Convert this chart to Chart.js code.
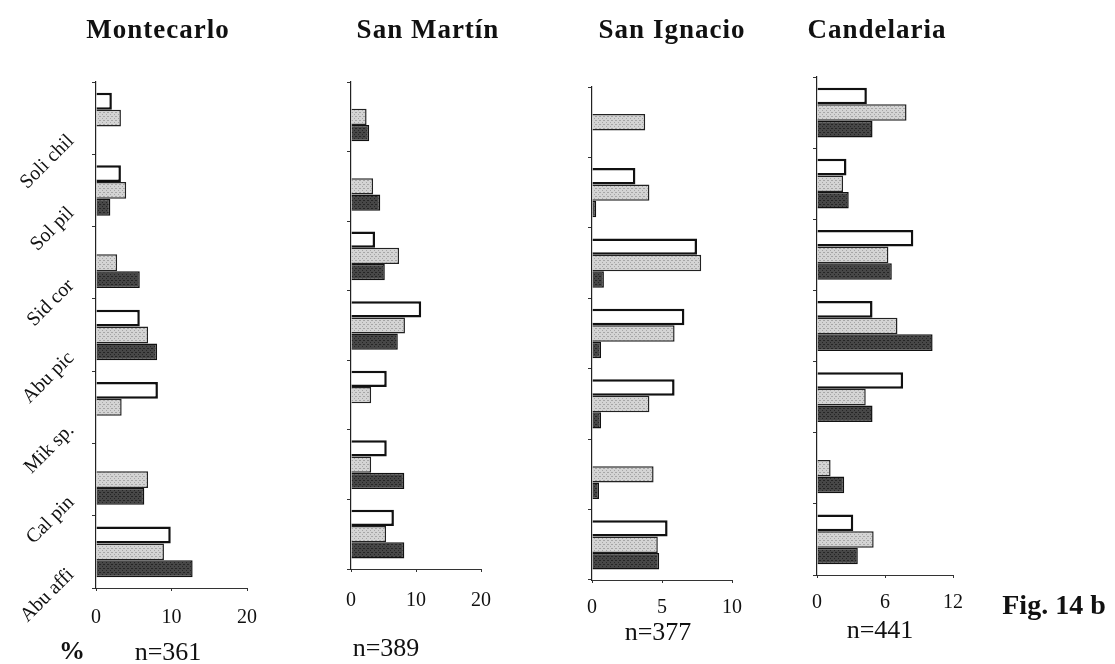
<!DOCTYPE html>
<html>
<head>
<meta charset="utf-8">
<script src="https://cdn.jsdelivr.net/npm/chart.js@4.4.1/dist/chart.umd.min.js"></script>
<style>
  body { margin: 0; background: #fff; }
  #wrap { position: relative; width: 1115px; height: 664px; overflow: hidden; font-family: "Liberation Serif", "DejaVu Serif", serif; color: #111; }
  #wrap canvas { position: absolute; left: 0; top: 0; }
  .t { position: absolute; transform: translate(-50%, -50%); white-space: nowrap; }
  .title { font-weight: bold; font-size: 27px; letter-spacing: 1px; }
  .n { font-size: 26px; }
</style>
</head>
<body>
<div id="wrap">
  <canvas id="c1" width="1115" height="664"></canvas>
  <canvas id="c2" width="1115" height="664"></canvas>
  <canvas id="c3" width="1115" height="664"></canvas>
  <canvas id="c4" width="1115" height="664"></canvas>

  <div class="t title" style="left:158px; top:29px;">Montecarlo</div>
  <div class="t title" style="left:428px; top:29px;">San Martín</div>
  <div class="t title" style="left:672px; top:29px;">San Ignacio</div>
  <div class="t title" style="left:877px; top:29px;">Candelaria</div>

  <div class="t" style="left:72px; top:651px; font-size:26px; font-weight:bold;">%</div>
  <div class="t n" style="left:168px; top:652px;">n=361</div>
  <div class="t n" style="left:386px; top:648px;">n=389</div>
  <div class="t n" style="left:658px; top:632px;">n=377</div>
  <div class="t n" style="left:880px; top:630px;">n=441</div>
  <div class="t" style="left:1054px; top:605px; font-size:28px; font-weight:bold;">Fig. 14 b</div>
</div>

<script>
var categories = ["Soli chil", "Sol pil", "Sid cor", "Abu pic", "Mik sp.", "Cal pin", "Abu affi"];

// Montecarlo
var mcWhite = [2.1, 3.3, null, 5.8, 8.2, null, 9.9];
var mcGray  = [3.3, 4.0, 2.8, 6.9, 3.4, 6.9, 9.0];
var mcDark  = [null, 1.9, 5.8, 8.1, null, 6.4, 12.8];

// San Martin
var smWhite = [null, null, 3.7, 10.8, 5.5, 5.5, 6.6];
var smGray  = [2.4, 3.4, 7.4, 8.3, 3.1, 3.1, 5.4];
var smDark  = [2.8, 4.5, 5.2, 7.2, null, 8.2, 8.2];

// San Ignacio
var siWhite = [null, 3.1, 7.5, 6.6, 5.9, null, 5.4];
var siGray  = [3.8, 4.1, 7.8, 5.9, 4.1, 4.4, 4.7];
var siDark  = [null, 0.3, 0.85, 0.65, 0.65, 0.5, 4.8];

// Candelaria
var caWhite = [4.4, 2.6, 8.5, 4.9, 7.6, null, 3.2];
var caGray  = [7.9, 2.3, 6.3, 7.1, 4.3, 1.2, 5.0];
var caDark  = [4.9, 2.8, 6.6, 10.2, 4.9, 2.4, 3.6];

// axis maxima and steps
var mcMax = 20, mcStep = 10;
var smMax = 20, smStep = 10;
var siMax = 10, siStep = 5;
var caMax = 12, caStep = 6;

var W = 1115, H = 664, AXIS_H = 50;
var serif = "'Liberation Serif', 'DejaVu Serif', serif";

function speckle(base, dot) {
    var c = document.createElement("canvas");
    c.width = 4; c.height = 4;
    var g = c.getContext("2d");
    g.fillStyle = base;
    g.fillRect(0, 0, 4, 4);
    g.fillStyle = dot;
    g.fillRect(0, 0, 1, 1);
    g.fillRect(2, 2, 1, 1);
    g.fillRect(3, 0, 1, 1);
    return g.createPattern(c, "repeat");
}
var grayFill = speckle("#d4d4d4", "#a6a6a6");
var darkFill = speckle("#474747", "#252525");

// rotated category names, only on the first panel
var catLabels = {
    id: "catLabels",
    afterDraw: function (chart) {
        var y = chart.scales.y;
        var ctx = chart.ctx;
        ctx.save();
        ctx.font = "20px " + serif;
        ctx.fillStyle = "#111";
        ctx.textAlign = "right";
        ctx.textBaseline = "middle";
        categories.forEach(function (name, i) {
            ctx.save();
            ctx.translate(71, y.getPixelForValue(i) + 20);
            ctx.rotate(-Math.PI / 4);
            ctx.fillText(name, 0, 0);
            ctx.restore();
        });
        ctx.restore();
    }
};

function makePanel(id, white, gray, dark, box, max, step, tickPad, plugins) {
    var ctx = document.getElementById(id).getContext("2d");
    new Chart(ctx, {
        type: "bar",
        data: {
            labels: categories,
            datasets: [
                { data: white, backgroundColor: "#ffffff", borderColor: "#111", borderWidth: 2.5 },
                { data: gray, backgroundColor: grayFill, borderColor: "#222", borderWidth: 1.5 },
                { data: dark, backgroundColor: darkFill, borderColor: "#111", borderWidth: 1.5 }
            ]
        },
        options: {
            indexAxis: "y",
            responsive: false,
            animation: false,
            events: [],
            datasets: { bar: { categoryPercentage: 0.7, barPercentage: 1.0 } },
            layout: {
                padding: { left: box.left, right: W - box.right, top: box.top, bottom: H - box.bottom - AXIS_H }
            },
            plugins: { legend: { display: false }, tooltip: { enabled: false } },
            scales: {
                x: {
                    min: 0,
                    max: max,
                    afterFit: function (s) { s.height = AXIS_H; },
                    ticks: { stepSize: step, padding: tickPad, color: "#111", font: { family: serif, size: 20 } },
                    grid: { drawOnChartArea: false, tickLength: 3, color: "#333" },
                    border: { color: "#333", width: 1 }
                },
                y: {
                    afterFit: function (s) { s.width = 0; },
                    ticks: { display: false },
                    grid: { drawOnChartArea: false, tickLength: 4, color: "#333", offset: true },
                    border: { color: "#222", width: 1.2 }
                }
            }
        },
        plugins: plugins || []
    });
}

makePanel("c1", mcWhite, mcGray, mcDark, { left: 96, right: 247, top: 82, bottom: 588 }, mcMax, mcStep, 15, [catLabels]);
makePanel("c2", smWhite, smGray, smDark, { left: 351, right: 481, top: 82, bottom: 569 }, smMax, smStep, 17, []);
makePanel("c3", siWhite, siGray, siDark, { left: 592, right: 732, top: 87, bottom: 580 }, siMax, siStep, 13, []);
makePanel("c4", caWhite, caGray, caDark, { left: 817, right: 953, top: 77, bottom: 575 }, caMax, caStep, 13, []);
</script>
</body>
</html>
